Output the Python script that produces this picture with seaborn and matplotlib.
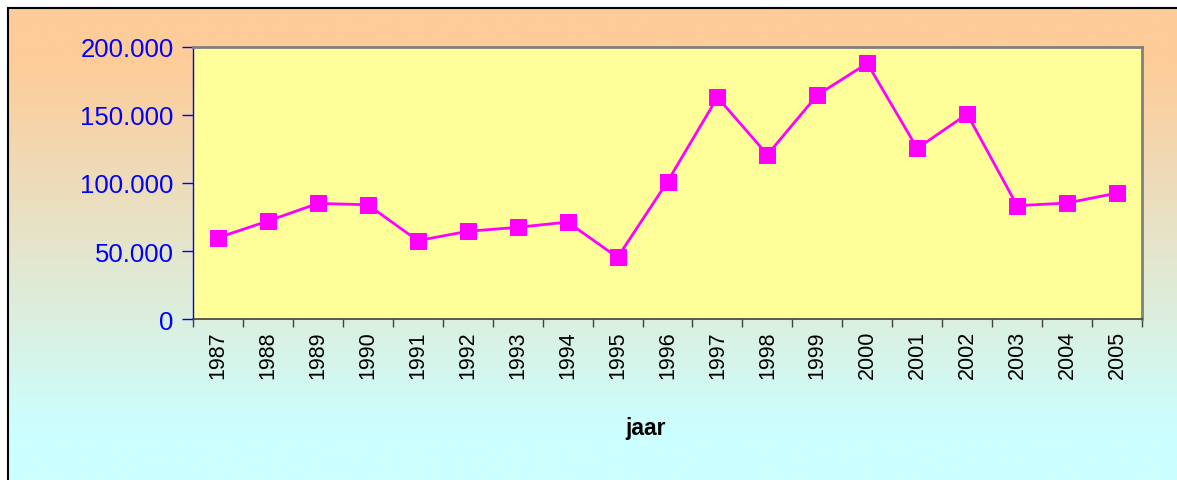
import numpy as np
import pandas as pd
import matplotlib
matplotlib.use("Agg")
import matplotlib.pyplot as plt
from matplotlib.ticker import FuncFormatter, FixedLocator
from matplotlib.patches import Rectangle
import seaborn as sns

years = list(range(1987, 2006))
aantal = [59800, 72000, 85000, 84000, 57600, 64500, 67400, 71300, 45300,
          101000, 163000, 120800, 164700, 188000, 125500, 150700, 83300,
          85300, 92600]

df = pd.DataFrame({"jaar": years, "aantal": aantal})

sns.set_style("white")
plt.rcParams["font.family"] = ["Liberation Sans", "DejaVu Sans"]

W, H = 1177, 481
fig = plt.figure(figsize=(W / 100, H / 100), dpi=100)
fig.patch.set_facecolor("white")

# gradient background of the chart area (orange -> light cyan)
x0 = 8 / W
y1 = 1 - 9 / H
bg = fig.add_axes([x0, 0, 1 - x0, y1], zorder=0)
top = np.array([253, 204, 153]) / 255
bottom = np.array([204, 255, 255]) / 255
t = np.clip((np.linspace(0, 1, 300) - 0.12) / 0.78, 0, 1)[:, None]
grad = top * (1 - t) + bottom * t
bg.imshow(grad[:, None, :], aspect="auto", extent=[0, 1, 0, 1])
bg.set_axis_off()
fig.patches.append(Rectangle((x0, -0.1), 1.2, y1 + 0.1, transform=fig.transFigure,
                             fill=False, edgecolor="black", linewidth=1.5))

ax = fig.add_axes([193 / W, 1 - 320 / H, (1142 - 193) / W, (320 - 48) / H], zorder=1)
ax.set_facecolor("#FFFF99")

sns.lineplot(data=df, x="jaar", y="aantal", ax=ax, color="#FF00FF",
             linewidth=2.0, marker="s", markersize=11,
             markeredgecolor="#FF00FF", markerfacecolor="#FF00FF")

ax.set_xlim(years[0] - 0.5, years[-1] + 0.5)
ax.set_ylim(0, 200000)
ax.set_yticks([0, 50000, 100000, 150000, 200000])
ax.yaxis.set_major_formatter(FuncFormatter(lambda v, p: f"{int(v):,}".replace(",", ".")))
ax.tick_params(axis="y", colors="blue", labelsize=18.5, length=8, width=1,
               direction="out", left=True, pad=6)

# Excel-like: ticks between categories, labels at centers
ax.xaxis.set_major_locator(FixedLocator([y - 0.5 for y in years] + [years[-1] + 0.5]))
ax.xaxis.set_minor_locator(FixedLocator(years))
ax.xaxis.set_major_formatter(FuncFormatter(lambda v, p: ""))
ax.xaxis.set_minor_formatter(FuncFormatter(lambda v, p: str(int(round(v)))))
ax.tick_params(axis="x", which="major", length=6, width=1, color="#404040", direction="out", bottom=True)
ax.tick_params(axis="x", which="minor", length=0, labelsize=15.5, labelrotation=90,
               labelcolor="black", pad=8)

ax.set_xlabel("")
ax.set_ylabel("")

for side in ["top", "right"]:
    ax.spines[side].set_color("#808080")
    ax.spines[side].set_linewidth(2)
ax.spines["left"].set_color("blue")
ax.spines["left"].set_linewidth(1)
ax.spines["bottom"].set_color("#404040")
ax.spines["bottom"].set_linewidth(1.2)

fig.text(646 / W, 1 - 428 / H, "jaar", fontsize=16.5, fontweight="bold",
         ha="center", va="center", color="black")

fig.savefig("out.png", dpi=100)
